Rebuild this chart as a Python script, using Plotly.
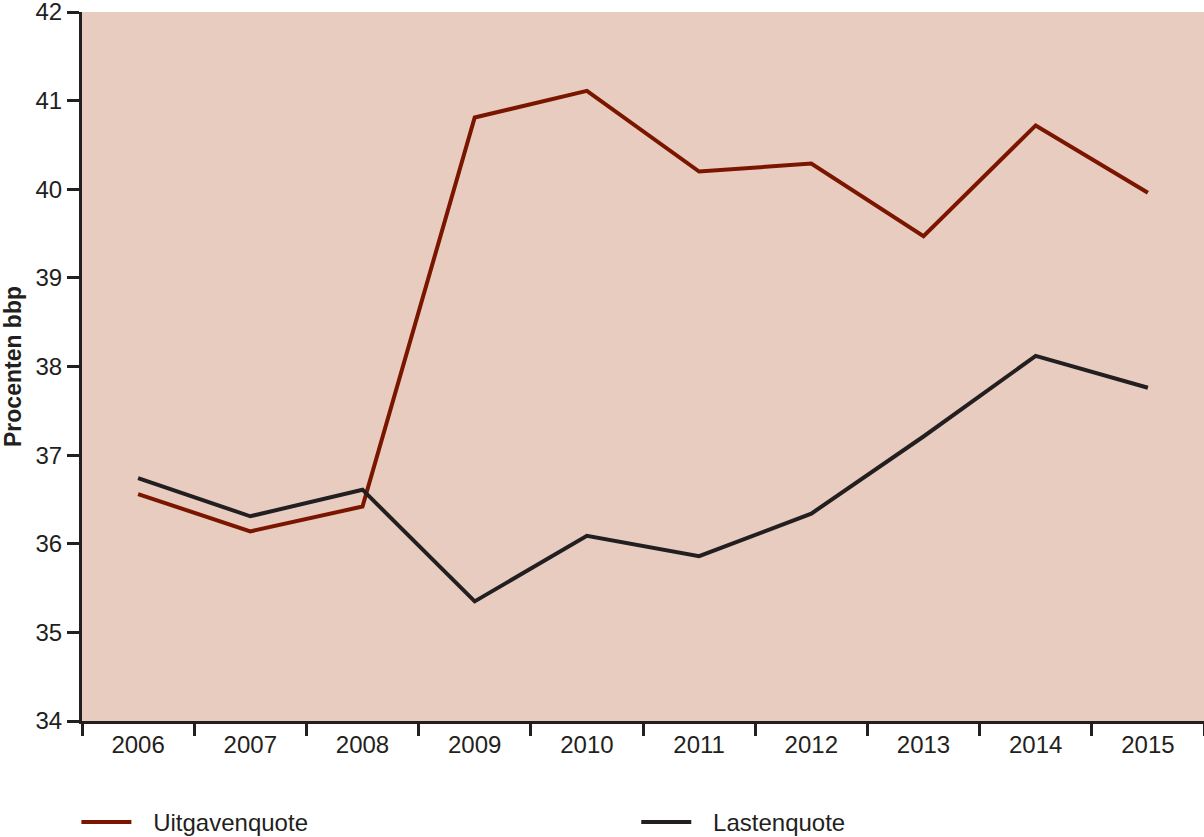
import plotly.graph_objects as go

years = ["2006", "2007", "2008", "2009", "2010", "2011", "2012", "2013", "2014", "2015"]
uitgavenquote = [36.56, 36.14, 36.42, 40.81, 41.11, 40.20, 40.29, 39.47, 40.72, 39.96]
lastenquote = [36.74, 36.31, 36.61, 35.35, 36.09, 35.86, 36.34, 37.21, 38.12, 37.76]

RED = "#7A1500"
BLACK = "#231F20"
FONT = "Liberation Sans, Arial, sans-serif"

fig = go.Figure()
fig.add_trace(go.Scatter(x=years, y=uitgavenquote, mode="lines", name="\u2002\u2009Uitgavenquote",
                         line=dict(color=RED, width=4), legend="legend"))
fig.add_trace(go.Scatter(x=years, y=lastenquote, mode="lines", name="\u2002\u2009Lastenquote",
                         line=dict(color=BLACK, width=4), legend="legend2"))

legend_common = dict(orientation="h", y=-0.143, xanchor="left", yanchor="middle",
                     font=dict(size=24, color=BLACK, family=FONT),
                     itemwidth=50, bgcolor="rgba(0,0,0,0)")

fig.update_layout(
    width=1204, height=837,
    margin=dict(l=82, r=0, t=12, b=116, autoexpand=False),
    paper_bgcolor="white",
    plot_bgcolor="#E8CCC0",
    font=dict(family=FONT, size=24, color=BLACK),
    showlegend=True,
    legend=dict(x=-0.005, **legend_common),
    legend2=dict(x=0.494, **legend_common),
)
fig.update_xaxes(
    type="category", showgrid=False, zeroline=False,
    showline=True, linecolor=BLACK, linewidth=3,
    ticks="outside", tickson="boundaries", ticklen=12, tickwidth=3, tickcolor=BLACK,
    tickfont=dict(size=24, family=FONT, color=BLACK),
    range=[-0.5, 9.5],
)
fig.update_yaxes(
    range=[34, 42], dtick=1, tick0=34, showgrid=False, zeroline=False,
    showline=True, linecolor=BLACK, linewidth=3,
    ticks="outside", ticklen=12, tickwidth=3, tickcolor=BLACK,
    tickfont=dict(size=24, family=FONT, color=BLACK),
    ticklabeloverflow="allow",
    title=dict(text="<b>Procenten bbp</b>", font=dict(size=23, family=FONT, color=BLACK), standoff=8),
)

fig.write_html("out.html")
